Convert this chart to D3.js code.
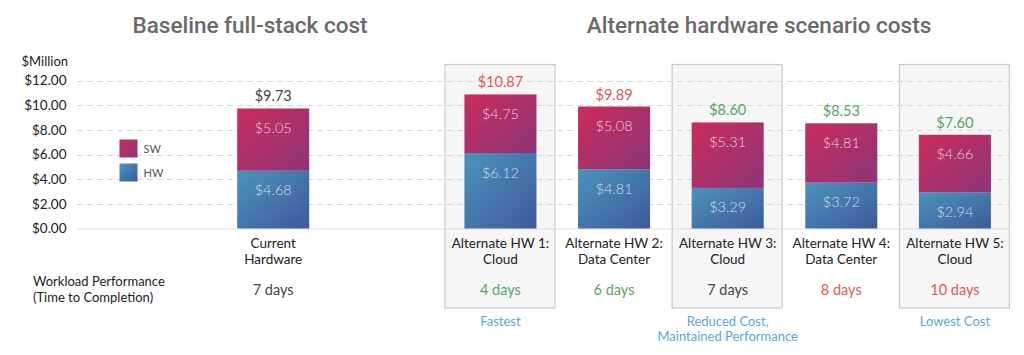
<!DOCTYPE html>
<html>
<head>
<meta charset="utf-8">
<script src="https://cdn.jsdelivr.net/npm/d3@7"></script>
<style>
  html, body { margin: 0; padding: 0; background: #fff; }
  svg { display: block; font-family: Lato, "Open Sans", sans-serif; }
</style>
</head>
<body>
<svg id="chart" width="1024" height="355"></svg>
<script>
// ---------------- DATA ----------------
const categories = ["Current Hardware", "Alternate HW 1: Cloud", "Alternate HW 2: Data Center",
                    "Alternate HW 3: Cloud", "Alternate HW 4: Data Center", "Alternate HW 5: Cloud"];
const categoryLines = [["Current", "Hardware"], ["Alternate HW 1:", "Cloud"], ["Alternate HW 2:", "Data Center"],
                       ["Alternate HW 3:", "Cloud"], ["Alternate HW 4:", "Data Center"], ["Alternate HW 5:", "Cloud"]];
const hwValues = [4.68, 6.12, 4.81, 3.29, 3.72, 2.94];
const swValues = [5.05, 4.75, 5.08, 5.31, 4.81, 4.66];
const totalValues = [9.73, 10.87, 9.89, 8.60, 8.53, 7.60];
const totalStatus = ["neutral", "worse", "worse", "better", "better", "better"];
const daysValues = [7, 4, 6, 7, 8, 10];
const daysStatus = ["neutral", "better", "better", "neutral", "worse", "worse"];
const yTicks = [0, 2, 4, 6, 8, 10, 12];
const highlightCats = ["Alternate HW 1: Cloud", "Alternate HW 3: Cloud", "Alternate HW 5: Cloud"];
const highlightNotes = [["Fastest"], ["Reduced Cost,", "Maintained Performance"], ["Lowest Cost"]];
const seriesNames = ["SW", "HW"];
const titles = ["Baseline full-stack cost", "Alternate hardware scenario costs"];
const yAxisTitle = "$Million";
const perfLabel = ["Workload Performance", "(Time to Completion)"];

// ---------------- SETUP ----------------
const svg = d3.select("#chart");
const statusColor = { neutral: "#444444", worse: "#dc5a55", better: "#57a463" };

// slot layout: legend slot, baseline bar, gap slot, then alternates
const slots = ["__legend", categories[0], "__gap", ...categories.slice(1)];
const x = d3.scaleBand().domain(slots).range([82, 1032.5]).paddingInner(0.366).paddingOuter(0.366);
const y = d3.scaleLinear().domain([0, 12]).range([228.5, 80.5]);
const bw = x.bandwidth();
const cx = c => x(c) + bw / 2;

// gradients
const defs = svg.append("defs");
function grad(id, c0, c1) {
  const g = defs.append("linearGradient").attr("id", id)
    .attr("x1", 0).attr("y1", 0).attr("x2", 1).attr("y2", 1);
  g.append("stop").attr("offset", "0%").attr("stop-color", c0);
  g.append("stop").attr("offset", "100%").attr("stop-color", c1);
}
grad("gSW", "#ca2c5d", "#8c3577");
grad("gHW", "#4b93bc", "#3e5a9b");
const fills = { SW: "url(#gSW)", HW: "url(#gHW)" };

// ---------------- HIGHLIGHT BOXES ----------------
const boxW = 110;
svg.append("g").selectAll("rect").data(highlightCats).join("rect")
  .attr("x", d => cx(d) - boxW / 2 - 0.5)
  .attr("y", 64.5)
  .attr("width", boxW)
  .attr("height", 243.5)
  .attr("fill", "#f6f6f6")
  .attr("stroke", "#c9c9c9")
  .attr("stroke-width", 1.2);

svg.append("g").selectAll("text").data(highlightCats).join("text")
  .attr("text-anchor", "middle")
  .attr("font-size", 13)
  .attr("fill", "#5ea6d3")
  .attr("x", d => cx(d))
  .attr("y", 326)
  .each(function(d, i) {
    d3.select(this).selectAll("tspan").data(highlightNotes[i]).join("tspan")
      .attr("x", cx(d)).attr("dy", (t, j) => j === 0 ? 0 : 15).text(t => t);
  });

// ---------------- GRID & AXIS ----------------
const gridX0 = 77, gridX1 = 1010;
svg.append("g").selectAll("line").data(yTicks.filter(t => t > 0)).join("line")
  .attr("x1", gridX0).attr("x2", gridX1)
  .attr("y1", d => Math.round(y(d)) + 0.5).attr("y2", d => Math.round(y(d)) + 0.5)
  .attr("stroke", "#d8d8d8").attr("stroke-width", 1).attr("stroke-dasharray", "6,4");

svg.append("line")
  .attr("x1", gridX0).attr("x2", gridX1)
  .attr("y1", y(0) + 0.5).attr("y2", y(0) + 0.5)
  .attr("stroke", "#dddddd").attr("stroke-width", 1);

const yAxis = d3.axisLeft(y).tickValues(yTicks).tickSize(0).tickPadding(0)
  .tickFormat(d => "$" + d3.format(".2f")(d));
const ag = svg.append("g").attr("transform", "translate(66.5,0)").call(yAxis);
ag.select(".domain").remove();
ag.selectAll("text").style("font-family", "Lato, sans-serif").style("font-size", "13.5px")
  .attr("fill", "#222");

svg.append("text").attr("x", 21.5).attr("y", 66).attr("font-size", 13)
  .attr("fill", "#222").text(yAxisTitle);

// ---------------- TITLES ----------------
svg.selectAll("text.title").data(titles).join("text").attr("class", "title")
  .attr("x", (d, i) => i === 0 ? 250 : 759).attr("y", 32.5)
  .attr("text-anchor", "middle")
  .style("font-family", "Roboto, sans-serif")
  .style("font-size", "22.5px").style("font-weight", 500)
  .attr("fill", "#6a6a6a").text(d => d);

// ---------------- BARS ----------------
const rows = categories.map((c, i) => ({ c, HW: hwValues[i], SW: swValues[i] }));
const stack = d3.stack().keys(["HW", "SW"])(rows);

const barG = svg.append("g");
stack.forEach(layer => {
  barG.append("g").selectAll("rect").data(layer).join("rect")
    .attr("x", d => x(d.data.c))
    .attr("width", bw)
    .attr("y", d => y(d[1]))
    .attr("height", d => y(d[0]) - y(d[1]))
    .attr("fill", fills[layer.key]);
  barG.append("g").selectAll("text").data(layer).join("text")
    .attr("x", d => cx(d.data.c))
    .attr("y", d => y(d[1]) + 24.5)
    .attr("text-anchor", "middle")
    .style("font-size", "14.5px").style("font-weight", 300)
    .attr("fill", "#ffffff").attr("fill-opacity", 0.75)
    .text(d => "$" + d3.format(".2f")(d.data[layer.key]));
});

// totals
svg.append("g").selectAll("text").data(categories).join("text")
  .attr("x", d => cx(d))
  .attr("y", (d, i) => y(totalValues[i]) - 7)
  .attr("text-anchor", "middle")
  .style("font-size", "14.5px")
  .attr("fill", (d, i) => statusColor[totalStatus[i]])
  .text((d, i) => "$" + d3.format(".2f")(totalValues[i]));

// category labels
svg.append("g").selectAll("text").data(categories).join("text")
  .attr("text-anchor", "middle")
  .attr("font-size", 13.5)
  .attr("fill", "#222")
  .attr("y", 247.5)
  .each(function(d, i) {
    d3.select(this).selectAll("tspan").data(categoryLines[i]).join("tspan")
      .attr("x", cx(d)).attr("dy", (t, j) => j === 0 ? 0 : 16).text(t => t);
  });

// days row
svg.append("g").selectAll("text").data(categories).join("text")
  .attr("x", d => cx(d))
  .attr("y", 294.5)
  .attr("text-anchor", "middle")
  .attr("font-size", 14.5)
  .attr("fill", (d, i) => statusColor[daysStatus[i]])
  .text((d, i) => daysValues[i] + " days");

svg.append("text").attr("font-size", 13).attr("fill", "#222").attr("y", 286)
  .selectAll("tspan").data(perfLabel).join("tspan")
  .attr("x", 33).attr("dy", (t, j) => j === 0 ? 0 : 16).text(t => t);

// ---------------- LEGEND ----------------
const leg = svg.append("g").attr("transform", "translate(119.5,139.5)");
const legItems = leg.selectAll("g").data(seriesNames).join("g")
  .attr("transform", (d, i) => `translate(0,${i * 24})`);
legItems.append("rect").attr("width", 18).attr("height", 18)
  .attr("fill", d => fills[d]);
legItems.append("text").attr("x", 24).attr("y", 13.5)
  .attr("font-size", 11).attr("fill", "#555").text(d => d);
</script>
</body>
</html>
